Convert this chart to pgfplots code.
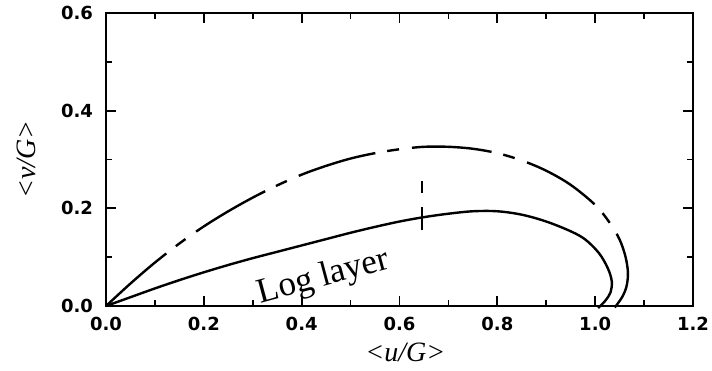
\documentclass[border=0pt]{standalone}
\usepackage{fontspec}
\setmainfont{Liberation Serif}
\newfontfamily\tickfont{DejaVu Sans}
\usepackage{pgfplots}
\pgfplotsset{compat=1.18}
\begin{document}
\begin{tikzpicture}
\useasboundingbox (-53pt,-32pt) rectangle (303pt,153pt);
\begin{axis}[
  at={(0,0)}, anchor=south west,
  scale only axis, width=293.5pt, height=146.5pt,
  xmin=0, xmax=1.2, ymin=0, ymax=0.6,
  xtick={0,0.2,0.4,0.6,0.8,1.0,1.2},
  xticklabels={0.0,0.2,0.4,0.6,0.8,1.0,1.2},
  ytick={0,0.2,0.4,0.6},
  yticklabels={0.0,0.2,0.4,0.6},
  minor xtick={0.1,0.3,0.5,0.7,0.9,1.1},
  minor ytick={0.1,0.3,0.5},
  tick align=inside,
  major tick length=5pt, minor tick length=3pt,
  every tick/.style={black, line width=0.9pt},
  axis line style={line width=1pt},
  tick label style={font=\tickfont\bfseries\fontsize{9}{10}\selectfont},
  xticklabel shift=2pt,
  yticklabel shift=3pt,
  xlabel={\textit{<u/G>}},
  ylabel={\textit{<v/G>}},
  label style={font=\fontsize{14}{16}\selectfont},
  xlabel style={at={(axis description cs:0.51,-0.16)}, anchor=center},
  ylabel style={at={(axis description cs:-0.135,0.5)}, anchor=center},
  clip=false,
]
% upper curve (long dash - short dash)
\addplot[black, line width=1.2pt, smooth, tension=0.55,
  dash pattern=on 40pt off 6pt on 6pt off 6.5pt] coordinates {
  (0,0) (0.05,0.046) (0.1,0.089) (0.15,0.128) (0.2,0.163) (0.25,0.194)
  (0.3,0.222) (0.35,0.247) (0.4,0.269) (0.45,0.287) (0.5,0.302)
  (0.55,0.313) (0.6,0.321) (0.65,0.326) (0.7,0.326) (0.75,0.322)
  (0.8,0.313) (0.85,0.298) (0.9,0.277) (0.95,0.248) (1.0,0.207)
  (1.03,0.170) (1.05,0.136) (1.062,0.101) (1.067,0.068)
  (1.064,0.040) (1.055,0.018) (1.04,-0.003)
};
% lower curve (solid)
\addplot[black, line width=1.2pt, smooth, tension=0.55] coordinates {
  (0,0) (0.05,0.018) (0.1,0.036) (0.15,0.053) (0.2,0.069) (0.25,0.084)
  (0.3,0.098) (0.35,0.111) (0.4,0.124) (0.45,0.137) (0.5,0.150)
  (0.55,0.162) (0.6,0.173) (0.65,0.182) (0.7,0.189) (0.75,0.194)
  (0.8,0.194) (0.85,0.187) (0.9,0.173) (0.95,0.153) (0.98,0.136)
  (1.008,0.108) (1.026,0.077) (1.034,0.050) (1.031,0.027) (1.02,0.010)
  (1.006,-0.004)
};
% vertical dashed marker
\addplot[black, line width=1.2pt, dash pattern=on 6pt off 7pt on 12pt off 0pt] coordinates {
  (0.646,0.255) (0.646,0.155)
};
\node[rotate=15, font=\fontsize{17.5}{19}\selectfont] at (axis cs:0.445,0.058) {Log layer};
\end{axis}
\end{tikzpicture}
\end{document}
